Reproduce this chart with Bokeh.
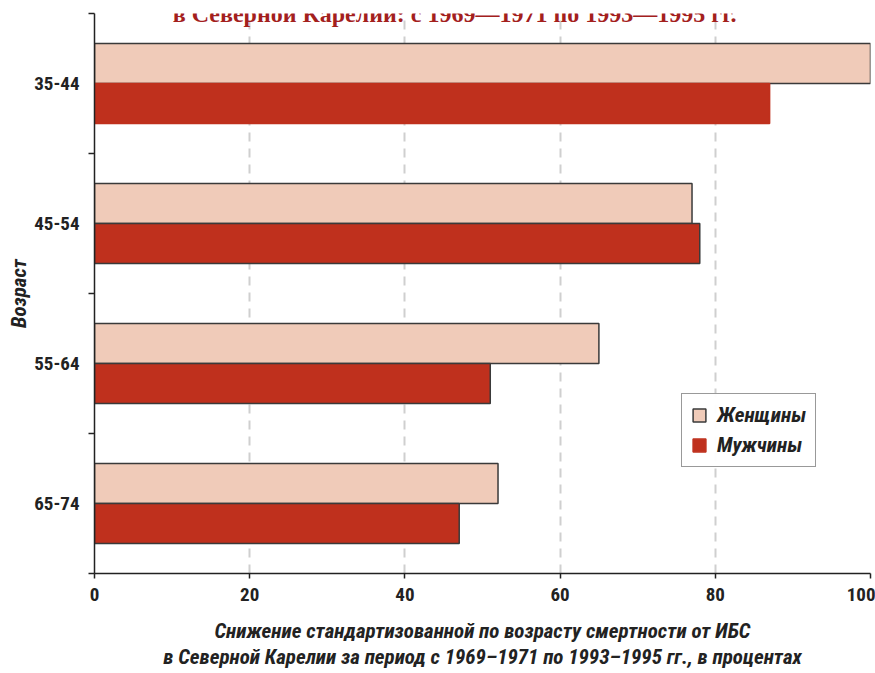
from bokeh.plotting import figure
from bokeh.models import ColumnDataSource, FixedTicker, Label, Legend, LegendItem
from bokeh.embed import file_html
from bokeh.resources import INLINE

ages = ["35-44", "45-54", "55-64", "65-74"]
women = [100, 77, 65, 52]
men = [87, 78, 51, 47]
x_ticks = [0, 20, 40, 60, 80, 100]

title_text = "в Северной Карелии: с 1969—1971 по 1993—1995 гг."
xlabel = ("Снижение стандартизованной по возрасту смертности от ИБС\n"
          "в Северной Карелии за период с 1969–1971 по 1993–1995 гг., в процентах")
ylabel = "Возраст"

FONT = "Roboto Condensed, DejaVu Sans Condensed, Roboto"
WOMEN_COLOR = "#F0CBB9"
MEN_COLOR = "#BF301D"
EDGE = "#3a3a3a"
n = len(ages)
centers = [n - 0.5 - i for i in range(n)]
bh = 0.2857
# in the reference the first men's bar has no dark outline
men_edges = [MEN_COLOR] + [EDGE] * (n - 1)

src = ColumnDataSource(dict(
    age=ages, women=women, men=men,
    yw=[c + bh / 2 for c in centers],
    ym=[c - bh / 2 for c in centers],
    men_edge=men_edges,
))

p = figure(width=875, height=673, output_backend="svg", toolbar_location=None,
           x_range=(0, 100), y_range=(0, n),
           min_border_left=94, min_border_right=5, min_border_top=13, min_border_bottom=100)
p.outline_line_color = None
p.background_fill_color = "white"

rw = p.hbar(y="yw", right="women", left=0, height=bh, source=src,
            fill_color=WOMEN_COLOR, line_color=EDGE, line_width=1.5)
rm = p.hbar(y="ym", right="men", left=0, height=bh, source=src,
            fill_color=MEN_COLOR, line_color="men_edge", line_width=1.5)

# x axis
xa = p.xaxis[0]
xa.ticker = FixedTicker(ticks=x_ticks)
xa.major_label_text_font = FONT
xa.major_label_text_font_style = "bold"
xa.major_label_text_font_size = "19px"
xa.major_label_text_color = "#222222"
xa.major_label_standoff = 9
xa.major_tick_in = 0
xa.major_tick_out = 5
xa.minor_tick_out = 0
xa.minor_tick_in = 0
xa.axis_line_width = 1.5
xa.axis_line_color = "#222222"
xa.major_tick_line_color = "#222222"
xa.major_tick_line_width = 1.5
xa.axis_label = xlabel
xa.axis_label_text_font = FONT
xa.axis_label_text_font_style = "bold italic"
xa.axis_label_text_font_size = "21px"
xa.axis_label_text_color = "#222222"
xa.axis_label_text_line_height = 1.1
xa.axis_label_standoff = 15

# y axis
ya = p.yaxis[0]
ya.ticker = FixedTicker(ticks=centers, minor_ticks=list(range(n + 1)))
ya.major_label_overrides = {c: a for c, a in zip(centers, ages)}
ya.major_tick_in = 0
ya.major_tick_out = 0
ya.minor_tick_in = 0
ya.minor_tick_out = 6
ya.minor_tick_line_color = "#222222"
ya.minor_tick_line_width = 1.5
ya.major_label_text_font = FONT
ya.major_label_text_font_style = "bold"
ya.major_label_text_font_size = "19px"
ya.major_label_text_color = "#222222"
ya.major_label_standoff = 9
ya.axis_line_width = 1.5
ya.axis_line_color = "#222222"
ya.axis_label = ylabel
ya.axis_label_text_font = FONT
ya.axis_label_text_font_style = "bold italic"
ya.axis_label_text_font_size = "21px"
ya.axis_label_text_color = "#222222"
ya.axis_label_standoff = 0

p.ygrid.grid_line_color = None
p.xgrid.ticker = FixedTicker(ticks=x_ticks[1:])
p.xgrid.grid_line_color = "#CFCFCF"
p.xgrid.grid_line_width = 2
p.xgrid.grid_line_dash = "9 7"

# title (cut at top)
p.add_layout(Label(x=46.4, y=3.993, text=title_text, text_align="center",
                   text_baseline="alphabetic", text_font="Liberation Serif",
                   text_font_style="bold", text_font_size="24px", text_color="#A3201D"))

legend = Legend(items=[LegendItem(label="Женщины", renderers=[rw]),
                       LegendItem(label="Мужчины", renderers=[rm])],
                location=(587, 106))
legend.label_text_font = FONT
legend.label_text_font_style = "bold italic"
legend.label_text_font_size = "21px"
legend.label_text_color = "#222222"
legend.border_line_color = "#333333"
legend.border_line_width = 1.5
legend.glyph_width = 16
legend.glyph_height = 16
legend.padding = 9
legend.spacing = 6
legend.label_standoff = 10
legend.margin = 0
p.add_layout(legend, "center")

open("out.html", "w").write(file_html(p, INLINE))
